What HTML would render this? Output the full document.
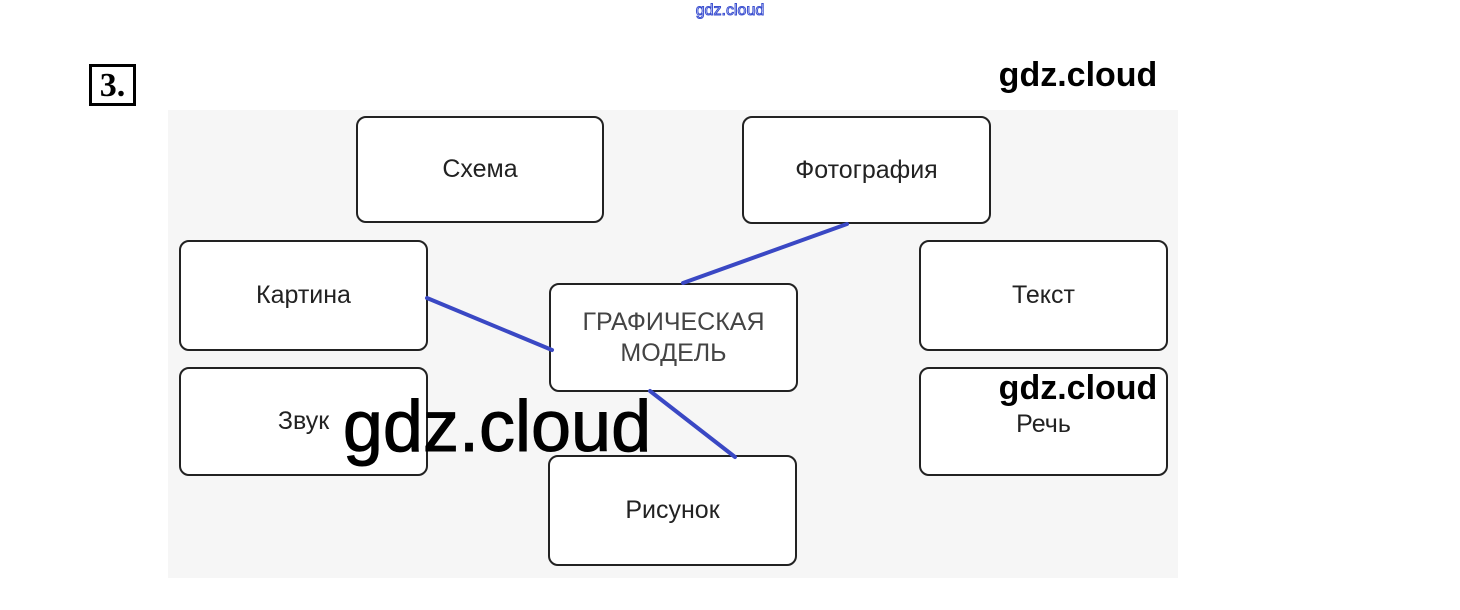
<!DOCTYPE html>
<html><head><meta charset="utf-8"><style>
body{margin:0;width:1460px;height:610px;background:#fff;position:relative;overflow:hidden;font-family:"Liberation Sans",sans-serif}
.bg{position:absolute;left:168px;top:110px;width:1010px;height:468px;background:#f6f6f6}
.b{position:absolute;box-sizing:border-box;border:2px solid #222;border-radius:10px;background:#fff;display:flex;align-items:center;justify-content:center;text-align:center;font-size:25px;color:#222;line-height:31px}
.w{position:absolute;font-weight:bold;color:#000;white-space:nowrap;transform:translateX(-50%)}
</style></head><body>
<div class="bg"></div>
<div style="position:absolute;left:89px;top:64px;width:47px;height:42px;box-sizing:border-box;border:3px solid #000;font-family:'Liberation Serif',serif;font-weight:bold;font-size:34px;line-height:38px;text-align:center">3.</div>
<div class="w" style="left:730px;top:2px;font-size:16px;font-weight:normal;color:#fff;-webkit-text-stroke:1px #3b4fd0">gdz.cloud</div>
<div class="b" style="left:356px;top:116px;width:248px;height:107px">Схема</div>
<div class="b" style="left:742px;top:116px;width:249px;height:108px">Фотография</div>
<div class="b" style="left:179px;top:240px;width:249px;height:111px">Картина</div>
<div class="b" style="left:919px;top:240px;width:249px;height:111px">Текст</div>
<div class="b" style="left:549px;top:283px;width:249px;height:109px;color:#444">ГРАФИЧЕСКАЯ<br>МОДЕЛЬ</div>
<div class="b" style="left:179px;top:367px;width:249px;height:109px">Звук</div>
<div class="b" style="left:919px;top:367px;width:249px;height:109px;padding-top:6px">Речь</div>
<div class="b" style="left:548px;top:455px;width:249px;height:111px">Рисунок</div>
<svg style="position:absolute;left:0;top:0" width="1460" height="610">
<g stroke="#3a48c4" stroke-width="4" stroke-linecap="round">
<line x1="427" y1="298" x2="552" y2="350"/>
<line x1="847" y1="224" x2="683" y2="283"/>
<line x1="650" y1="391" x2="735" y2="457"/>
</g></svg>
<div class="w" style="left:1078px;top:56px;font-size:34px">gdz.cloud</div>
<div class="w" style="left:1078px;top:369px;font-size:34px">gdz.cloud</div>
<div class="w" style="left:497px;top:386px;font-size:72px;font-weight:normal;-webkit-text-stroke:1px #000">gdz.cloud</div>
</body></html>
